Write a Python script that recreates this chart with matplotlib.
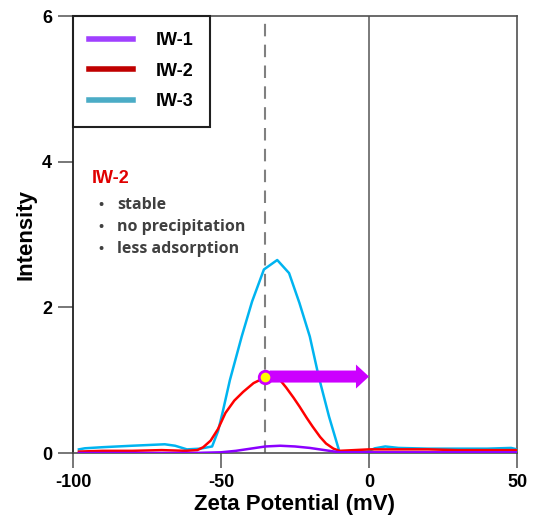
import numpy as np
import matplotlib
matplotlib.use('Agg')
import matplotlib.pyplot as plt
from matplotlib.lines import Line2D

plt.rcParams['font.family'] = ['Liberation Sans', 'DejaVu Sans']
plt.rcParams['font.weight'] = 'bold'
plt.rcParams['axes.unicode_minus'] = False

# data
iw3_x = [-98, -96, -90, -80, -69, -65.5, -61.5, -57, -53, -51, -49.5, -47, -43, -39.5, -35.5,
         -31, -27, -23.5, -20, -17, -13.5, -10, -5, -0.5, 2, 5.5, 10, 20, 30, 40, 48, 50]
iw3_y = [0.05, 0.065, 0.08, 0.1, 0.12, 0.1, 0.05, 0.06, 0.09, 0.3, 0.55, 1.0, 1.6, 2.08, 2.52,
         2.65, 2.47, 2.06, 1.6, 1.05, 0.5, 0.02, 0.02, 0.02, 0.065, 0.09, 0.07, 0.06, 0.06, 0.06, 0.07, 0.05]

iw2_x = [-98, -90, -80, -70, -62, -58, -56, -53.5, -51, -48.5, -45.5, -42.5, -39, -36, -33, -30, -28,
         -25.5, -23.5, -21, -19, -16.5, -14.5, -12, -10, -5, 0, 10, 20, 30, 40, 50]
iw2_y = [0.02, 0.03, 0.03, 0.04, 0.03, 0.04, 0.08, 0.17, 0.33, 0.55, 0.72, 0.84, 0.96, 1.02, 1.05, 1.0, 0.9,
         0.76, 0.64, 0.48, 0.36, 0.22, 0.13, 0.06, 0.03, 0.04, 0.05, 0.05, 0.05, 0.04, 0.04, 0.04]

iw1_x = [-98, -80, -60, -50, -45, -40, -35, -30, -25, -20, -15, -10, 0, 20, 50]
iw1_y = [0.0, 0.0, 0.0, 0.01, 0.03, 0.06, 0.09, 0.1, 0.09, 0.07, 0.04, 0.01, 0.01, 0.01, 0.01]

labels = ['IW-1', 'IW-2', 'IW-3']
line_colors = ['#8B00FF', '#FF0000', '#00B4F0']
legend_colors = ['#A040FF', '#C00000', '#4BACC6']

marker_x, marker_y = -35, 1.05
dashed_x = -35
notes = ['stable', 'no precipitation', 'less adsorption']

fig = plt.figure(figsize=(5.39, 5.25), dpi=100)
ax = fig.add_axes([0.1354, 0.1371, 0.8238, 0.8324])

ax.axvline(dashed_x, color='#808080', lw=1.5, dashes=(6, 4), zorder=1)
ax.axvline(0, color='#707070', lw=1.3, zorder=1)

ax.plot(iw3_x, iw3_y, color=line_colors[2], lw=1.8, zorder=3)
ax.plot(iw2_x, iw2_y, color=line_colors[1], lw=1.8, zorder=3)
ax.plot(iw1_x, iw1_y, color=line_colors[0], lw=1.8, zorder=3)

# shift arrow
ax.arrow(marker_x + 1.5, marker_y, -marker_x - 1.5 - 4.4, 0, width=0.165, head_width=0.33,
         head_length=4.4, length_includes_head=False, color='#CC00FF', lw=0, zorder=4)
ax.plot([marker_x], [marker_y], 'o', ms=9, mfc='#FFFF00', mec='#CC00FF', mew=2, zorder=5)

ax.set_xlim(-100, 50)
ax.set_ylim(0, 6)
ax.set_xticks([-100, -50, 0, 50])
ax.set_yticks([0, 2, 4, 6])
ax.tick_params(direction='out', length=11, width=1.2, color='#606060', labelsize=13, pad=4)
for lab in ax.get_xticklabels() + ax.get_yticklabels():
    lab.set_fontweight('bold')
for side in ['top', 'right', 'bottom']:
    ax.spines[side].set_color('#505050')
    ax.spines[side].set_linewidth(1.2)
ax.spines['left'].set_color('#202020')
ax.spines['left'].set_linewidth(1.3)

ax.set_xlabel('Zeta Potential (mV)', fontsize=16, fontweight='bold', labelpad=2)
ax.set_ylabel('Intensity', fontsize=16, fontweight='bold', labelpad=4)

handles = [Line2D([], [], color=c, lw=4) for c in legend_colors]
leg = ax.legend(handles, labels, loc='upper left', bbox_to_anchor=(0, 1), borderaxespad=0,
                fancybox=False, framealpha=1, edgecolor='#202020',
                handlelength=2.4, handletextpad=1.3, labelspacing=0.75, borderpad=0.9,
                prop={'weight': 'bold', 'size': 13})
leg.get_frame().set_linewidth(1.5)

ax.text(0.042, 0.628, 'IW-2', transform=ax.transAxes, color='#E00000', fontsize=13,
        fontweight='bold', va='center', ha='left')
for i, note in enumerate(notes):
    yy = 0.568 - i * 0.05
    ax.text(0.057, yy, '\u2022', transform=ax.transAxes, color='#404040', fontsize=10,
            va='center', ha='left', family=['Open Sans', 'DejaVu Sans'])
    ax.text(0.1, yy, note, transform=ax.transAxes, color='#404040', fontsize=11.5,
            fontweight='bold', va='center', ha='left', family=['Open Sans', 'DejaVu Sans'])

fig.savefig('out.png', dpi=100)
